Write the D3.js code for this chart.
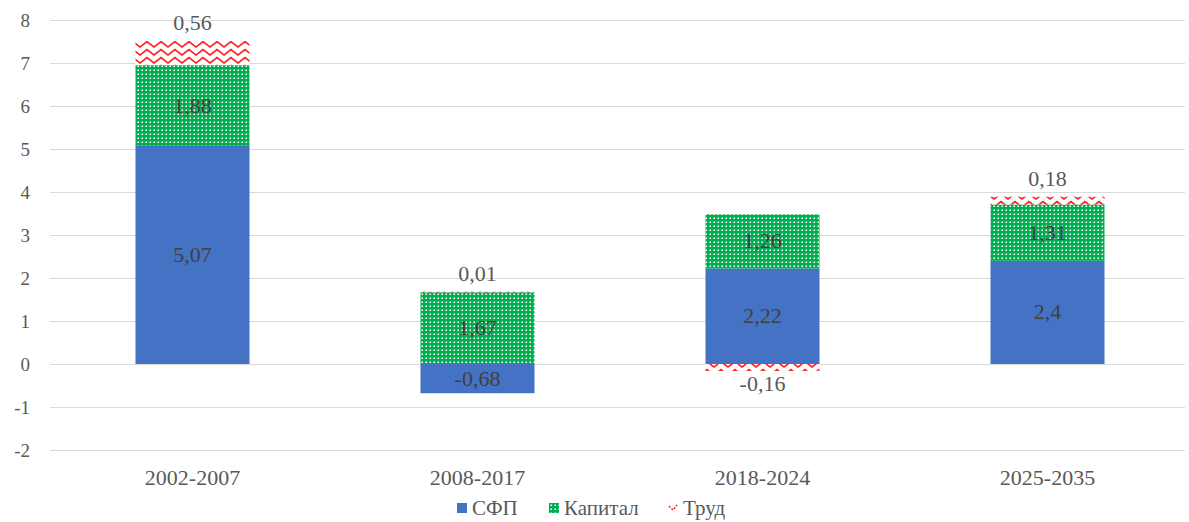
<!DOCTYPE html>
<html lang="ru">
<head>
    <meta charset="UTF-8">
    <title>Декомпозиция роста</title>
    <script src="https://d3js.org/d3.v7.min.js"></script>
    <style>
        body { margin: 0; background: #fff; }
        svg text { font-family: "Liberation Serif", "DejaVu Serif", serif; }
    </style>
</head>
<body>
<script>
    // data
    var periods = ["2002-2007", "2008-2017", "2018-2024", "2025-2035"];
    var sfp     = [5.07, -0.68, 2.22, 2.4];
    var kapital = [1.88, 1.67, 1.26, 1.31];
    var trud    = [0.56, 0.01, -0.16, 0.18];
    var seriesNames = ["СФП", "Капитал", "Труд"];
    var yTicks = [-2, -1, 0, 1, 2, 3, 4, 5, 6, 7, 8];

    var w = 1189, h = 522;
    var serif = "'Liberation Serif', 'DejaVu Serif', serif";

    var rows = periods.map(function(p, i) {
        return { period: p, "СФП": sfp[i], "Капитал": kapital[i], "Труд": trud[i] };
    });

    var stacked = d3.stack()
        .keys(seriesNames)
        .offset(d3.stackOffsetDiverging)(rows);

    var x = d3.scaleBand()
        .domain(periods)
        .range([50, 1190])
        .paddingInner(0.6)
        .paddingOuter(0.3);

    var y = d3.scaleLinear()
        .domain([-2, 8])
        .range([450, 20]);

    var svg = d3.select("body").append("svg")
        .attr("width", w)
        .attr("height", h)
        .attr("font-family", serif);

    // patterns
    var defs = svg.append("defs");
    var pk = defs.append("pattern")
        .attr("id", "pat-kap")
        .attr("patternUnits", "userSpaceOnUse")
        .attr("width", 4).attr("height", 4);
    pk.append("rect").attr("width", 4).attr("height", 4).attr("fill", "#00B050");
    pk.append("rect").attr("x", 1.5).attr("y", 1.5).attr("width", 1.5).attr("height", 1.5).attr("fill", "#ffffff");

    var pt = defs.append("pattern")
        .attr("id", "pat-trud")
        .attr("patternUnits", "userSpaceOnUse")
        .attr("width", 14).attr("height", 8);
    pt.append("rect").attr("width", 14).attr("height", 8).attr("fill", "#ffffff");
    pt.append("path").attr("d", "M-1,6.5 L0,7 L7,1.5 L14,7 L15,6.5")
        .attr("fill", "none").attr("stroke", "#FF2020").attr("stroke-width", 1.6);

    var fills = { "СФП": "#4472C4", "Капитал": "url(#pat-kap)", "Труд": "url(#pat-trud)" };

    // grid + y axis
    var yAxis = d3.axisLeft(y).tickValues(yTicks).tickSize(-(1185 - 50)).tickPadding(20)
        .tickFormat(function(d) { return d; });
    var gy = svg.append("g").attr("transform", "translate(50,0)").call(yAxis);
    gy.attr("font-family", serif).attr("font-size", 19);
    gy.select(".domain").remove();
    gy.selectAll(".tick line").attr("stroke", "#D9D9D9").attr("stroke-width", 1);
    gy.selectAll(".tick text").attr("fill", "#595959").attr("dy", "0.34em");

    // bars
    var layers = svg.selectAll("g.layer")
        .data(stacked)
        .enter().append("g")
        .attr("class", "layer")
        .attr("fill", function(d) { return fills[d.key]; });

    layers.selectAll("rect")
        .data(function(d) { return d; })
        .enter().append("rect")
        .attr("x", function(d) { return x(d.data.period); })
        .attr("y", function(d) { return y(Math.max(d[0], d[1])); })
        .attr("width", x.bandwidth())
        .attr("height", function(d) { return Math.max(0.6, Math.abs(y(d[0]) - y(d[1]))); });

    var fmt = function(v) { return String(v).replace(".", ","); };

    // labels
    stacked.forEach(function(layer) {
        svg.append("g").selectAll("text")
            .data(layer)
            .enter().append("text")
            .attr("x", function(d) { return x(d.data.period) + x.bandwidth() / 2; })
            .attr("y", function(d) {
                var v = d.data[layer.key];
                if (layer.key === "Труд") {
                    return v >= 0 ? y(d[1]) - 11 : y(d[0]) + 20;
                }
                return (y(d[0]) + y(d[1])) / 2 + 7;
            })
            .attr("text-anchor", "middle")
            .attr("font-size", 22)
            .attr("fill", layer.key === "Труд" ? "#595959" : "#404040")
            .text(function(d) { return fmt(d.data[layer.key]); });
    });

    // x labels
    svg.append("g").selectAll("text")
        .data(periods)
        .enter().append("text")
        .attr("x", function(d) { return x(d) + x.bandwidth() / 2; })
        .attr("y", 485)
        .attr("text-anchor", "middle")
        .attr("font-size", 22)
        .attr("fill", "#595959")
        .text(function(d) { return d; });

    // legend
    var legendX = [457, 549, 668];
    var lg = svg.append("g").selectAll("g")
        .data(seriesNames)
        .enter().append("g")
        .attr("transform", function(d, i) { return "translate(" + legendX[i] + ",503)"; });
    lg.append("rect")
        .attr("width", 10).attr("height", 10)
        .attr("fill", function(d) { return d === "Труд" ? "none" : fills[d]; });
    lg.filter(function(d) { return d === "Труд"; })
        .append("path")
        .attr("d", "M1,3 L5,7 L9,2")
        .attr("fill", "none").attr("stroke", "#FF2020").attr("stroke-width", 1.5)
        .attr("stroke-dasharray", "2,1.5");
    lg.append("text")
        .attr("x", 15).attr("y", 12)
        .attr("font-size", 21)
        .attr("fill", "#595959")
        .text(function(d) { return d; });
</script>
</body>
</html>
